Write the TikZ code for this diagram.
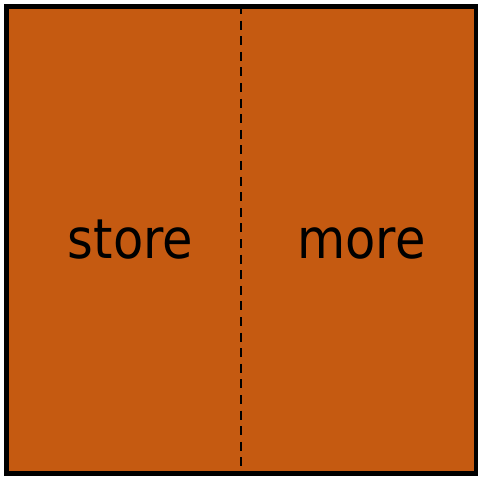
\documentclass[tikz,border=0pt]{standalone}
\usepackage{fontspec}
\setmainfont{DejaVu Sans Condensed}
\definecolor{boxorange}{RGB}{197,90,17}
\begin{document}
\begin{tikzpicture}[x=1pt,y=-1pt,
  panel/.style={fill=boxorange,draw=black,line width=5pt},
  divider/.style={draw=black,line width=2pt,dash pattern=on 9pt off 6.6pt},
  word/.style={font=\fontsize{55}{60}\selectfont,text=black,anchor=base,inner sep=0pt}]
\useasboundingbox (0,0) rectangle (477,478);
\draw[panel] (6.5,7) rectangle (476.5,473);
\coordinate (dtop) at (241,5);
\coordinate (dbot) at (241,472);
\draw[divider] (dtop) -- (dbot);
\node[word] (store) at (130.5,258) {store};
\node[word] (more) at (361.5,258) {more};
\end{tikzpicture}
\end{document}
